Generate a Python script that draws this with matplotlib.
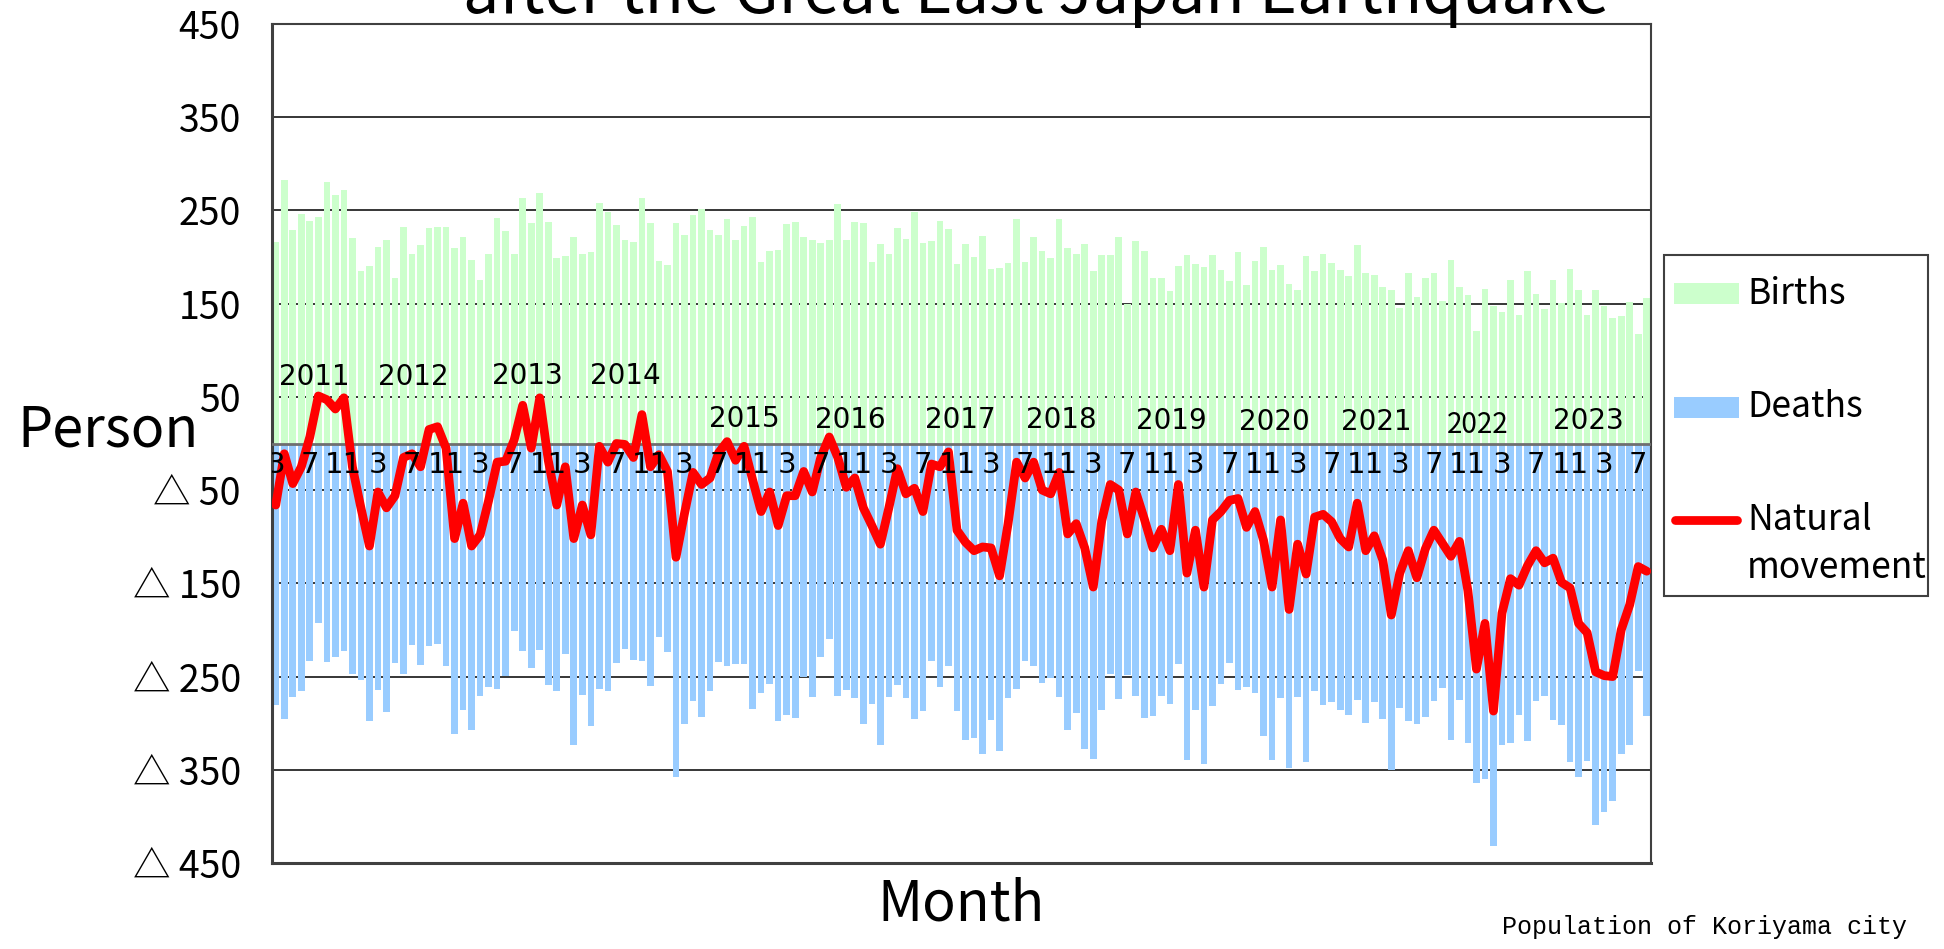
import numpy as np
import pandas as pd
import matplotlib
matplotlib.use("Agg")
import matplotlib.pyplot as plt
from matplotlib.patches import Rectangle
from matplotlib.lines import Line2D

plt.rcParams['font.family'] = ['Noto Sans CJK JP', 'DejaVu Sans']

# ---------------- data (Mar 2011 - Aug 2024, monthly) ----------------
births = [216, 283, 229, 246, 239, 243, 280, 267, 272, 220, 185, 190, 211, 218, 178, 232, 203, 213, 231, 232,
          232, 210, 222, 197, 175, 203, 242, 228,
          203, 263, 236, 269, 238, 199, 201, 222, 203, 205, 258, 248, 234, 218, 216, 263, 236, 196, 192, 236,
          224, 245, 252, 229, 224, 241, 218,
          233, 243, 195, 206, 208, 235, 238, 221, 218, 215, 218, 257, 218, 238, 236, 195, 214, 203, 231, 219,
          248, 215, 217, 239, 230, 193, 214,
          200, 223, 187, 188, 194, 241, 195, 221, 207, 199, 241, 210, 203, 214, 185, 202, 202, 222, 150, 217,
          206, 178, 178, 164, 190, 202, 193,
          189, 202, 186, 174, 205, 170, 196, 211, 186, 192, 171, 165, 201, 185, 203, 194, 186, 180, 213, 183,
          181, 168, 165, 145, 183, 157, 178,
          183, 153, 197, 168, 159, 121, 166, 147, 141, 175, 138, 185, 160, 144, 175, 151, 187, 165, 138, 165,
          147, 135, 137, 152, 117, 156]

deaths = [-281, -295, -272, -266, -233, -193, -234, -229, -223, -247, -254, -298, -264, -288, -235, -247,
          -216, -238, -217, -215, -239, -312, -286, -307, -271, -261, -263, -249,
          -201, -223, -241, -221, -259, -266, -226, -323, -270, -303, -263, -266, -235, -220, -232, -233,
          -260, -208, -224, -358, -301, -276, -293, -266, -234, -239, -236,
          -237, -285, -268, -258, -298, -291, -294, -250, -272, -229, -210, -271, -264, -273, -301, -279,
          -323, -272, -259, -273, -296, -287, -233, -261, -239, -287, -318,
          -316, -333, -297, -330, -273, -263, -233, -239, -257, -252, -272, -307, -289, -328, -338, -286,
          -247, -274, -248, -271, -294, -292, -271, -279, -237, -340, -286,
          -344, -282, -258, -235, -264, -261, -268, -314, -340, -273, -348, -272, -342, -266, -281, -277,
          -286, -291, -275, -300, -277, -296, -350, -284, -298, -301, -293,
          -276, -262, -318, -275, -321, -364, -360, -432, -323, -321, -291, -319, -276, -271, -297, -302,
          -342, -358, -341, -409, -395, -384, -333, -323, -244, -292]

natural = [-66, -11, -43, -25, 7, 51, 47, 37, 49, -25, -69, -110, -52, -69, -56, -15, -11, -25, 15, 18,
           -5, -102, -64, -110, -98, -61, -20, -19,
           4, 41, -5, 49, -18, -66, -25, -102, -66, -98, -3, -20, 0, -1, -15, 31, -25, -12, -30, -122,
           -75, -31, -44, -37, -10, 2, -18,
           -3, -39, -73, -52, -88, -56, -56, -30, -52, -15, 7, -15, -47, -37, -69, -88, -108, -69, -27, -54,
           -48, -73, -22, -25, -9, -93, -106,
           -115, -111, -112, -142, -86, -20, -37, -20, -50, -54, -31, -97, -86, -112, -154, -83, -44, -50,
           -97, -52, -81, -112, -92, -115, -44, -139, -93,
           -154, -82, -73, -61, -59, -90, -73, -104, -154, -82, -178, -108, -140, -79, -76, -84, -102, -111,
           -64, -115, -99, -125, -184, -139, -115, -144, -113,
           -93, -107, -121, -105, -158, -242, -193, -287, -182, -145, -152, -131, -115, -128, -123, -149,
           -155, -193, -203, -245, -249, -250, -200, -173, -132, -137]

periods = pd.date_range('2011-03-01', periods=len(births), freq='MS')
month_numbers = list(periods.month)
labelled_months = [3, 7, 11]

year_labels = ['2011', '2012', '2013', '2014', '2015', '2016', '2017', '2018', '2019', '2020', '2021',
               '2022', '2023']
# positions of the floating year captions (category index, value)
year_label_x = [4.5, 16.1, 29.5, 41.1, 55.0, 67.5, 80.4, 92.3, 105.2, 117.3, 129.2, 141.2, 154.1]
year_label_y = [71, 71, 72, 72, 26, 25, 25, 25, 24, 23, 23, 20, 24]

y_ticks = [-450, -350, -250, -150, -50, 50, 150, 250, 350, 450]
y_tick_labels = [('△ %d' % -v) if v < 0 else str(v) for v in y_ticks]

# ---------------- figure ----------------
W, H = 1944, 949
fig = plt.figure(figsize=(W / 100, H / 100), dpi=100)


def fx(px):
    return px / W


def fy(py):
    return 1 - py / H


ax = fig.add_axes([fx(271.5), fy(863), fx(1651) - fx(271.5), fy(24) - fy(863)])

x = np.arange(len(births))
ax.bar(x, births, width=0.78, color='#CCFFCC', zorder=2, linewidth=0)
ax.bar(x, deaths, width=0.78, color='#99CCFF', zorder=2, linewidth=0)
ax.plot(x, natural, color='#FF0000', lw=6.3, solid_joinstyle='round', solid_capstyle='round', zorder=4)

ax.axhline(0, color='#6f6f6f', lw=2.0, zorder=3)

ax.set_xlim(-0.5, len(births) - 0.5)
ax.set_ylim(-450, 450)
ax.set_yticks(y_ticks)
ax.set_yticklabels(y_tick_labels)
ax.set_xticks([])
ax.tick_params(axis='y', length=0, pad=22, labelsize=27)
ax.yaxis.grid(True, color='black', lw=1.1, zorder=1)
ax.set_axisbelow(True)

for s in ['left', 'bottom']:
    ax.spines[s].set_color('#404040')
    ax.spines[s].set_linewidth(2.2)
for s in ['top', 'right']:
    ax.spines[s].set_color('#404040')
    ax.spines[s].set_linewidth(1.5)

# month captions along the zero line
for i, m in enumerate(month_numbers):
    if m in labelled_months:
        ax.text(i, -23, str(m), ha='center', va='center', fontsize=21, color='black',
                zorder=5, clip_on=True, family=['DejaVu Sans'])

# year captions
for lab, xx, yy in zip(year_labels, year_label_x, year_label_y):
    fam = ['Noto Sans CJK JP'] if lab == '2022' else ['DejaVu Sans']
    ax.text(xx, yy, lab, ha='center', va='center', fontsize=20, color='black', zorder=5, family=fam)

# axis titles
fig.text(fx(108), fy(431), 'Person', ha='center', va='center', fontsize=40)
fig.text(fx(961), fy(905), 'Month', ha='center', va='center', fontsize=40)

# chart title (partly outside the canvas)
fig.text(fx(1036), fy(13), 'after the Great East Japan Earthquake', ha='center', va='baseline',
         fontsize=46.5)

# source note
fig.text(fx(1907), fy(927), 'Population of Koriyama city', ha='right', va='center', fontsize=18,
         family=['Liberation Mono', 'DejaVu Sans Mono'])

# ---------------- legend (drawn manually) ----------------
box = Rectangle((fx(1664), fy(596)), fx(1928) - fx(1664), fy(255) - fy(596), transform=fig.transFigure,
                facecolor='white', edgecolor='#404040', lw=1.5)
fig.add_artist(box)
fig.add_artist(Rectangle((fx(1674), fy(304)), fx(1739) - fx(1674), fy(283) - fy(304),
                         transform=fig.transFigure, facecolor='#CCFFCC', edgecolor='none'))
fig.add_artist(Rectangle((fx(1674), fy(418)), fx(1739) - fx(1674), fy(397) - fy(418),
                         transform=fig.transFigure, facecolor='#99CCFF', edgecolor='none'))
fig.add_artist(Line2D([fx(1675), fx(1737)], [fy(520), fy(520)], transform=fig.transFigure,
                      color='#FF0000', lw=6.3, solid_capstyle='round'))
fig.text(fx(1747), fy(294), 'Births', ha='left', va='center', fontsize=25.5)
fig.text(fx(1747), fy(407), 'Deaths', ha='left', va='center', fontsize=25.5)
fig.text(fx(1747), fy(520), 'Natural', ha='left', va='center', fontsize=25.5)
fig.text(fx(1747), fy(568), 'movement', ha='left', va='center', fontsize=25.5)

fig.savefig('out.png', dpi=100)
